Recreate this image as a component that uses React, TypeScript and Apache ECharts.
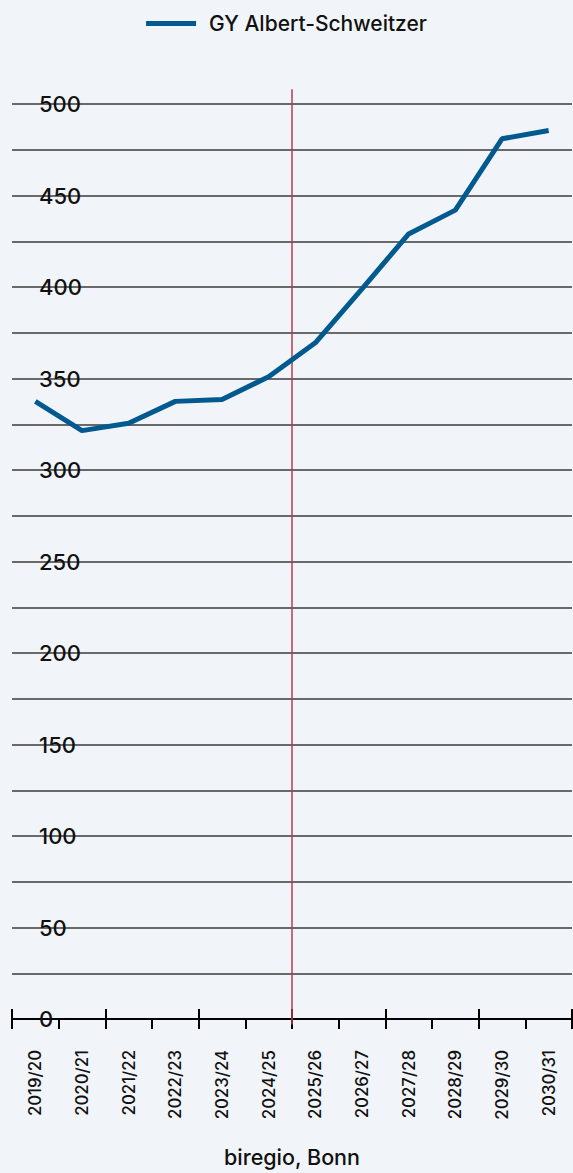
import React, { useEffect, useRef } from "react";
import * as echarts from "echarts";

const categories = [
  "2019/20", "2020/21", "2021/22", "2022/23", "2023/24", "2024/25",
  "2025/26", "2026/27", "2027/28", "2028/29", "2029/30", "2030/31",
];
const seriesName = "GY Albert-Schweitzer";
const values = [337.5, 321.5, 325.5, 337.5, 338.5, 351, 369.5, 399, 429, 442, 481, 485.5];
const yMin = 0;
const yMax = 500;
const yInterval = 25;
const yLabelStep = 50;
const markerIndex = 6; // boundary between 2024/25 and 2025/26
const markerRange = [-3, 508];
const sourceText = "biregio, Bonn";

const FONT = "Inter, 'Noto Sans', sans-serif";

export default function App() {
  const ref = useRef<HTMLDivElement>(null);
  useEffect(() => {
    document.body.style.margin = "0";
    document.body.style.background = "#f1f5f9";
    const chart = echarts.init(ref.current!, null, { renderer: "svg" });
    chart.setOption({
      animation: false,
      backgroundColor: "#f1f5f9",
      textStyle: { fontFamily: FONT },
      legend: {
        data: [seriesName],
        top: 8,
        left: "center",
        icon: "rect",
        itemWidth: 50,
        itemHeight: 5,
        itemGap: 16,
        textStyle: { fontSize: 21, fontWeight: 500, color: "#111", fontFamily: FONT, padding: [0, 0, 0, 8] },
      },
      grid: { left: 12, right: 1, top: 104, bottom: 149, containLabel: false },
      xAxis: [
        {
          type: "category",
          data: categories,
          boundaryGap: true,
          position: "bottom",
          axisLine: { show: true, lineStyle: { color: "#000", width: 2 } },
          axisTick: { show: true, length: 10, lineStyle: { color: "#000", width: 2 } },
          axisLabel: {
            rotate: 90,
            margin: 31,
            fontSize: 16.8,
            fontWeight: 500,
            color: "#111",
            fontFamily: FONT,
          },
          name: sourceText,
          nameLocation: "middle",
          nameGap: 127,
          nameTextStyle: { fontSize: 21.5, fontWeight: 500, color: "#111", fontFamily: FONT },
        },
        {
          type: "value",
          min: 0,
          max: categories.length,
          show: false,
        },
        {
          type: "category",
          data: categories,
          boundaryGap: true,
          position: "bottom",
          axisLine: { show: false },
          axisTick: { show: true, inside: true, length: 10, lineStyle: { color: "#000", width: 2 } },
          axisLabel: { show: false },
        },
      ],
      yAxis: {
        type: "value",
        min: yMin,
        max: yMax,
        interval: yInterval,
        axisLine: { show: false },
        axisTick: { show: false },
        splitLine: { show: true, lineStyle: { color: "#3a3a3a", width: 1.5 } },
        axisLabel: {
          inside: true,
          margin: 27,
          fontSize: 22,
          fontWeight: 500,
          color: "#111",
          fontFamily: FONT,
          verticalAlign: "middle",
          padding: [0, 0, 10, 0],
          formatter: (v: number) => (v % yLabelStep === 0 ? String(v) : ""),
        },
      },
      series: [
        {
          name: seriesName,
          type: "line",
          data: values,
          symbol: "none",
          lineStyle: { color: "#005a8f", width: 5 },
          itemStyle: { color: "#005a8f" },
          z: 3,
        },
        {
          name: "marker",
          type: "line",
          xAxisIndex: 1,
          data: [[markerIndex, markerRange[0]], [markerIndex, markerRange[1]]],
          symbol: "none",
          clip: false,
          silent: true,
          lineStyle: { color: "#b83b52", width: 1.5 },
          z: 2,
        },
      ],
    });
    return () => chart.dispose();
  }, []);
  return (
    <div
      ref={ref}
      style={{ position: "absolute", left: 0, top: 0, width: 573, height: 1173, background: "#f1f5f9" }}
    />
  );
}
